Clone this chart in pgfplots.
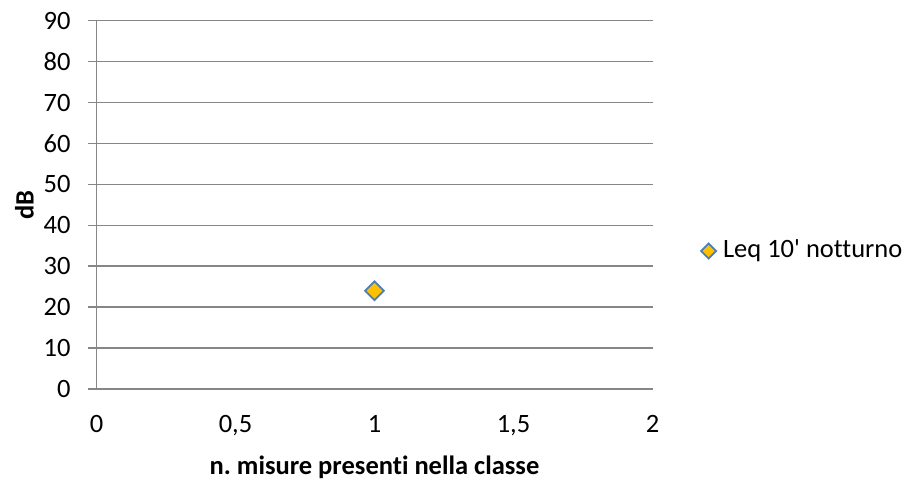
\documentclass[border=0pt]{standalone}
\usepackage{fontspec}
\setmainfont{Carlito}[Ligatures=NoCommon]
\usepackage{pgfplots}
\pgfplotsset{compat=1.18}

\definecolor{gridgray}{HTML}{868686}
\definecolor{markfill}{HTML}{FFC000}
\definecolor{markedge}{HTML}{4A7EBB}

\newcommand{\chartfont}{\fontsize{26.5pt}{31pt}\selectfont}

\begin{document}
\chartfont
\begin{tikzpicture}
\useasboundingbox (0,0) rectangle (909pt,480pt);
\begin{axis}[
  scale only axis,
  width=556pt, height=368.3pt,
  at={(96.5pt,91pt)}, anchor=south west,
  xmin=0, xmax=2, ymin=0, ymax=90,
  xtick={0,0.5,1,1.5,2},
  ytick={0,10,...,90},
  axis lines*=left,
  axis line style={draw=gridgray, line width=1.5pt, -},
  ymajorgrids,
  grid style={draw=gridgray, line width=1.5pt},
  tick align=outside,
  major tick length=8.5pt,
  ytick style={draw=gridgray, line width=1.5pt},
  xtick style={draw=none},
  /pgf/number format/assume math mode=true,
  /pgf/number format/use comma,
  ticklabel style={font=\chartfont, text=black},
  yticklabel style={anchor=east, xshift=-8.5pt},
  xticklabel style={anchor=north, yshift=-9pt},
  xlabel={\textbf{n.\ misure presenti nella classe}},
  ylabel={\textbf{dB}},
  label style={font=\chartfont},
  xlabel style={at={(axis description cs:0.5,-0.2118)}, anchor=center},
  ylabel style={at={(axis description cs:-0.1295,0.5)}, anchor=center},
  legend style={draw=none, fill=none, at={(axis description cs:1.087,0.3747)},
    anchor=west, inner sep=0pt, font=\chartfont,
    legend cell align=left,
    /tikz/every odd column/.append style={column sep=5pt}},
  legend image code/.code={\draw[#1, mark size=5.3pt] plot coordinates {(0.25cm,0cm)};},
]
\addplot[only marks, mark=square*, mark size=6.6pt,
  mark options={rotate=45, fill=markfill, draw=markedge, line width=1.8pt}]
  coordinates {(1,24)};
\addlegendentry{Leq 10\textquotesingle{} notturno}
\end{axis}
\end{tikzpicture}
\end{document}
